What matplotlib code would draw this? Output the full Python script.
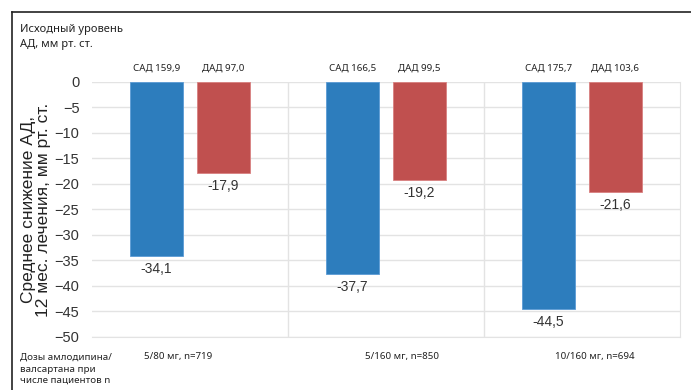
import matplotlib.pyplot as plt
from matplotlib.lines import Line2D
import numpy as np

plt.rcParams['font.family'] = ['Liberation Sans', 'DejaVu Sans']

# данные
groups = ['5/80 мг, n=719', '5/160 мг, n=850', '10/160 мг, n=694']
sad_base = ['САД 159,9', 'САД 166,5', 'САД 175,7']
dad_base = ['ДАД 97,0', 'ДАД 99,5', 'ДАД 103,6']
sad_drop = [-34.1, -37.7, -44.5]
dad_drop = [-17.9, -19.2, -21.6]

blue = '#2d7dbd'
red = '#c0504f'
small_font = ['Noto Sans', 'DejaVu Sans']

fig = plt.figure(figsize=(6.91, 3.90), dpi=100)
ax = fig.add_axes([0.133, 0.136, 0.851, 0.654])

x = np.arange(len(groups))
w = 0.27
off = 0.17
ax.bar(x - off, sad_drop, w, color=blue, edgecolor='#5b9bd5', linewidth=0.6, zorder=3)
ax.bar(x + off, dad_drop, w, color=red, edgecolor='#d98080', linewidth=0.6, zorder=3)

# подписи значений под столбцами
for xi, v in zip(x - off, sad_drop):
    ax.text(xi, v - 1.2, f'{v:.1f}'.replace('.', ','), ha='center', va='top', fontsize=10, color='#333333')
for xi, v in zip(x + off, dad_drop):
    ax.text(xi, v - 1.2, f'{v:.1f}'.replace('.', ','), ha='center', va='top', fontsize=10, color='#333333')

# исходный уровень над столбцами
for xi, s, d in zip(x, sad_base, dad_base):
    ax.text(xi - off, 1.8, s, ha='center', va='bottom', fontsize=7, family=small_font, color='#222222')
    ax.text(xi + off, 1.8, d, ha='center', va='bottom', fontsize=7, family=small_font, color='#222222')

ax.set_xlim(-0.5, 2.5)
ax.set_ylim(-50, 0)
ax.set_yticks(np.arange(-50, 1, 5))
ax.set_xticks([])
ax.set_xticks([0.5, 1.5], minor=True)
ax.grid(axis='y', color='#e3e3e3', linewidth=1, zorder=0)
ax.grid(axis='x', which='minor', color='#e3e3e3', linewidth=1, zorder=0)
ax.tick_params(axis='y', length=0, labelsize=10.5, labelcolor='#333333', pad=9)
ax.tick_params(axis='x', which='both', length=0)
for s in ['top', 'left']:
    ax.spines[s].set_visible(False)
for s in ['right', 'bottom']:
    ax.spines[s].set_color('#e3e3e3')

ax.set_ylabel('Среднее снижение АД,\n12 мес. лечения, мм рт. ст.', fontsize=12.5,
              color='#222222', linespacing=0.95)
ax.yaxis.set_label_coords(-0.07, 0.5)

# подписи доз
label_x = [178, 402, 595]
for lx, g in zip(label_x, groups):
    fig.text(lx / 691, 1 - 356 / 390, g, ha='center', va='center', fontsize=7, family=small_font, color='#222222')

fig.text(20 / 691, 1 - 369 / 390, 'Дозы амлодипина/\nвалсартана при\nчисле пациентов n',
         ha='left', va='center', fontsize=7, family=small_font, color='#222222', linespacing=1.35)
fig.text(20 / 691, 1 - 37 / 390, 'Исходный уровень\nАД, мм рт. ст.',
         ha='left', va='center', fontsize=8, family=small_font, color='#222222', linespacing=1.4)

# рамка
fig.add_artist(Line2D([12 / 691, 12 / 691], [0, 1 - 12 / 390], color='#222222', linewidth=1.2))
fig.add_artist(Line2D([12 / 691, 1], [1 - 12 / 390, 1 - 12 / 390], color='#222222', linewidth=1.2))

fig.savefig('out.png', dpi=100)
